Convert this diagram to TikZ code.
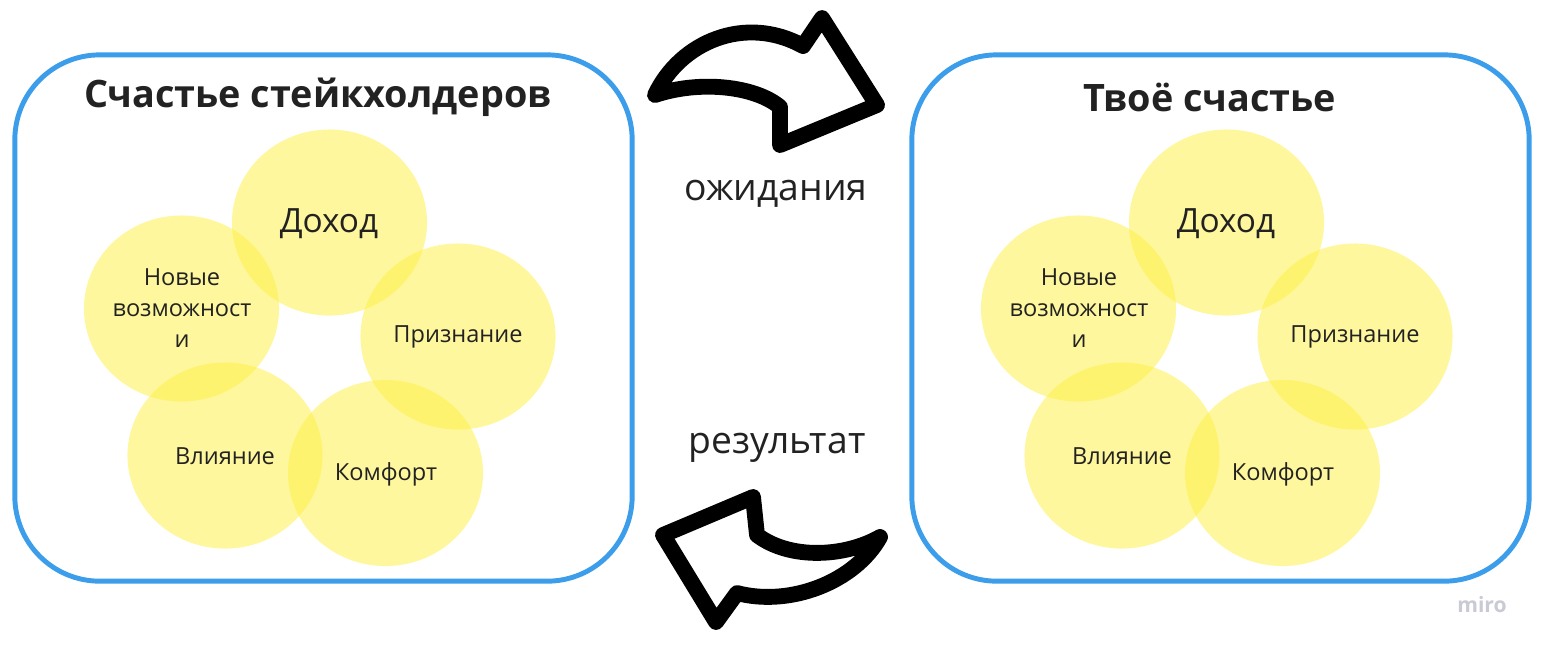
\documentclass[tikz,border=0pt]{standalone}
\usepackage{fontspec}
\setmainfont{Open Sans}
\usetikzlibrary{shapes.geometric}

\definecolor{boxblue}{HTML}{3C9DEA}
\definecolor{petalyellow}{HTML}{FDEF3E}
\definecolor{ink}{HTML}{222222}
\definecolor{logogray}{HTML}{C9CAD3}

\tikzset{
  panel/.style={draw=boxblue, line width=1.4pt, rounded corners=0.85cm,
    minimum width=6.17cm, minimum height=5.26cm},
  heading/.style={font=\bfseries\fontsize{10.75}{12}\selectfont, text=ink},
  petal/.style={ellipse, fill=petalyellow, fill opacity=0.5, inner sep=0pt,
    minimum width=1.95cm, minimum height=1.86cm},
  petaltext/.style={font=\fontsize{6.7}{8.8}\selectfont, text=ink, align=center},
  bigtext/.style={font=\fontsize{9.5}{11}\selectfont, text=ink},
  flowlabel/.style={font=\fontsize{10.6}{12}\selectfont, text=ink},
  bendarrow/.style={draw=black, fill=white, line width=4.5pt, line join=round}
}

\begin{document}
\begin{tikzpicture}[x=0.01cm, y=-0.01cm]
    \useasboundingbox (0,0) rectangle (1543,647);

    % panels
    \node[panel] (boxL) at (323.5,318) {};
    \node[panel] (boxR) at (1220.5,318) {};
    \node[heading] (titleL) at (318,97) {Счастье стейкхолдеров};
    \node[heading] (titleR) at (1210,97) {Твоё счастье};

    % left petals
    \node[petal] (dohodL) at (329.5,222.5) {};
    \node[petal] (novyeL) at (181.5,308.5) {};
    \node[petal] (priznL) at (458,336.5) {};
    \node[petal] (vliyanL) at (225,455.5) {};
    \node[petal] (komfL) at (385.5,473) {};

    \node[bigtext] (dohodLt) at (329,224) {Доход};
    \node[petaltext] (novyeLt) at (182,308) {Новые\\возможност\\и};
    \node[petaltext] (priznLt) at (458,337) {Признание};
    \node[petaltext] (vliyanLt) at (225,456) {Влияние};
    \node[petaltext] (komfLt) at (386,474) {Комфорт};

    % right petals
    \node[petal] (dohodR) at (1226.5,222.5) {};
    \node[petal] (novyeR) at (1078.5,308.5) {};
    \node[petal] (priznR) at (1355,336.5) {};
    \node[petal] (vliyanR) at (1122,455.5) {};
    \node[petal] (komfR) at (1282.5,473) {};

    \node[bigtext] (dohodRt) at (1226,224) {Доход};
    \node[petaltext] (novyeRt) at (1079,308) {Новые\\возможност\\и};
    \node[petaltext] (priznRt) at (1355,337) {Признание};
    \node[petaltext] (vliyanRt) at (1122,456) {Влияние};
    \node[petaltext] (komfRt) at (1283,474) {Комфорт};

    % bent arrows
    \draw[bendarrow] (655,95) .. controls (680,42) and (745,14) .. (803,46)
        -- (822,18) -- (877,105) -- (780,145) -- (780,107)
        .. controls (755,86) and (700,80) .. cycle;
    \draw[bendarrow] (663,535) -- (753,497) -- (757,535)
        .. controls (790,560) and (845,557) .. (880,537)
        .. controls (855,582) and (790,607) .. (737,593) -- (716,622) -- cycle;

    \node[flowlabel] (expect) at (776,194) {ожидания};
    \node[flowlabel] (result) at (777,448) {результат};

    \node[font=\bfseries\fontsize{6}{7}\selectfont, text=logogray] (logo) at (1482,605) {miro};
\end{tikzpicture}
\end{document}
